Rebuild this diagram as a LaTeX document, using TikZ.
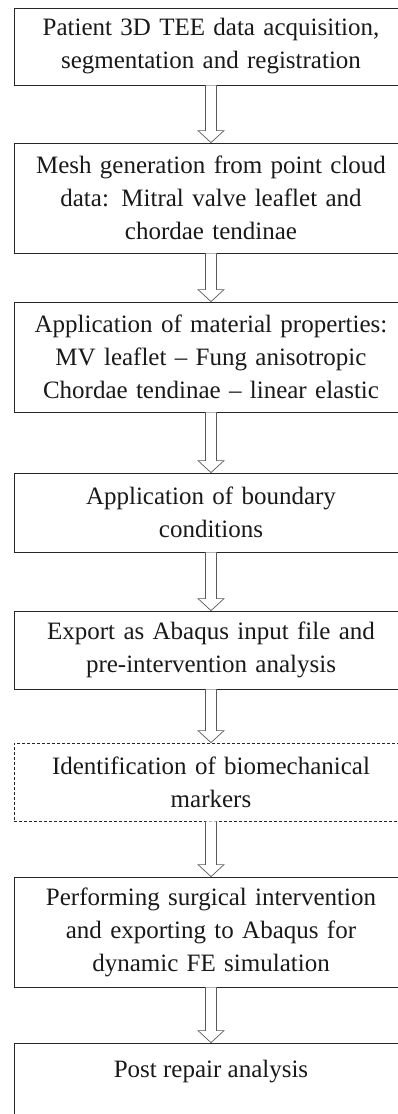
\documentclass[tikz,border=0pt]{standalone}
\usepackage{fontspec}
\setmainfont{Liberation Serif}
\usetikzlibrary{calc}
\tikzset{
  stagefont/.style={font=\fontsize{25}{33}\selectfont, text=black!90},
  stagebox/.style={draw=black!85, line width=0.8pt, minimum width=394pt,
    inner sep=0pt, text width=390pt, align=center, stagefont},
  markerbox/.style={stagebox, dashed, dash pattern=on 3pt off 2pt},
  hollowarrow/.style={draw=black!65, line width=0.7pt, fill=white}
}
% hollow block arrow from the bottom of one box to the top of the next
\newcommand\flowarrow[2]{%
  \draw[hollowarrow] let \p1=(#1.south), \p2=(#2.north) in
    (\x1-5.5pt,\y1) -- (\x1-5.5pt,\y2+12pt) -- (\x1-13pt,\y2+12pt) --
    (\x1,\y2) -- (\x1+13pt,\y2+12pt) -- (\x1+5.5pt,\y2+12pt) --
    (\x1+5.5pt,\y1);}
\begin{document}
\begin{tikzpicture}[x=1pt,y=-1pt]
\useasboundingbox (0,0) rectangle (397,1114);
\node[stagebox, minimum height=77pt]  (s1) at (211,46.5) {Patient 3D TEE data acquisition,\\segmentation and registration};
\node[stagebox, minimum height=110pt] (s2) at (211,198) {Mesh generation from point cloud\\data: Mitral valve leaflet and\\chordae tendinae};
\node[stagebox, minimum height=110pt] (s3) at (211,357) {Application of material properties:\\MV leaflet -- Fung anisotropic\\Chordae tendinae -- linear elastic};
\node[stagebox, minimum height=79pt]  (s4) at (211,512.5) {Application of boundary\\conditions};
\node[stagebox, minimum height=78pt]  (s5) at (211,650) {Export as Abaqus input file and\\pre-intervention analysis};
\node[markerbox, minimum height=78pt] (s6) at (211,782) {Identification of biomechanical\\markers};
\node[stagebox, minimum height=110pt] (s7) at (211,932) {Performing surgical intervention\\and exporting to Abaqus for\\dynamic FE simulation};
\node[stagebox, minimum height=120pt] (s8) at (211,1103) {};
\node[stagefont, inner sep=0pt] (s8text) at ($(s8.north)+(0,29)$) {Post repair analysis};
\flowarrow{s1}{s2}
\flowarrow{s2}{s3}
\flowarrow{s3}{s4}
\flowarrow{s4}{s5}
\flowarrow{s5}{s6}
\flowarrow{s6}{s7}
\flowarrow{s7}{s8}
\end{tikzpicture}
\end{document}
